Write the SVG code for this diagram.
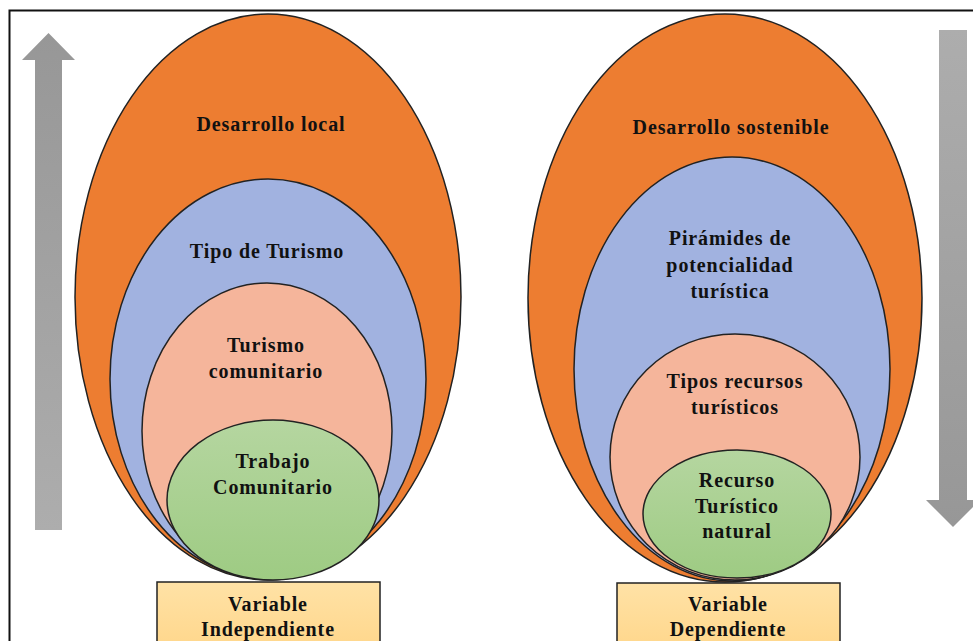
<svg xmlns="http://www.w3.org/2000/svg" width="973" height="641" viewBox="0 0 973 641">
<defs>
<linearGradient id="gUp" x1="0" y1="0" x2="0" y2="1"><stop offset="0" stop-color="#979797"/><stop offset="1" stop-color="#adadad"/></linearGradient>
<linearGradient id="gDown" x1="0" y1="0" x2="0" y2="1"><stop offset="0" stop-color="#adadad"/><stop offset="1" stop-color="#979797"/></linearGradient>
<linearGradient id="gGreen" x1="0" y1="0" x2="0" y2="1"><stop offset="0" stop-color="#b5d6a0"/><stop offset="1" stop-color="#9ecb83"/></linearGradient>
<linearGradient id="gBox" x1="0" y1="0" x2="0" y2="1"><stop offset="0" stop-color="#ffe2a6"/><stop offset="1" stop-color="#ffd68a"/></linearGradient>
<style>
.o{fill:#ED7D31;stroke:#222;stroke-width:1.5}
.b{fill:#A1B2E0;stroke:#222;stroke-width:1.5}
.s{fill:#F5B59B;stroke:#222;stroke-width:1.5}
.g{fill:url(#gGreen);stroke:#222;stroke-width:1.5}
.box{fill:url(#gBox);stroke:#222;stroke-width:1.5}
text{font-family:"Liberation Serif","Times New Roman",serif;font-weight:bold;font-size:20px;letter-spacing:0.9px;fill:#111;text-anchor:middle}
</style>
</defs>
<rect x="0" y="0" width="973" height="641" fill="#fff"/>
<path d="M9.5,641 V10.5 H973" fill="none" stroke="#111" stroke-width="2"/>
<g id="arrows">
<polygon points="35,530 35,60 22,60 48.5,33 75,60 62,60 62,530" fill="url(#gUp)"/>
<polygon points="939,30 967,30 967,500 980,500 953,527 926,500 939,500" fill="url(#gDown)"/>
</g>
<g id="left-orange"><ellipse class="o" cx="268" cy="297" rx="193" ry="283"/><text x="271" y="131">Desarrollo local</text></g>
<g id="left-blue"><ellipse class="b" cx="268" cy="379" rx="158" ry="200"/><text x="267" y="258">Tipo de Turismo</text></g>
<g id="left-salmon"><ellipse class="s" cx="267" cy="431" rx="125" ry="148"/><text x="266" y="352">Turismo</text><text x="266" y="378">comunitario</text></g>
<g id="left-green"><ellipse class="g" cx="273" cy="500" rx="106" ry="80"/><text x="273" y="468">Trabajo</text><text x="273" y="494">Comunitario</text></g>
<g id="left-box"><rect class="box" x="157" y="582" width="223" height="70"/><text x="268" y="611">Variable</text><text x="268" y="636">Independiente</text></g>
<g id="right-orange"><ellipse class="o" cx="725" cy="298" rx="197" ry="284"/><text x="731" y="134">Desarrollo sostenible</text></g>
<g id="right-blue"><ellipse class="b" cx="732" cy="369" rx="158" ry="212"/><text x="730" y="245">Pirámides de</text><text x="730" y="272">potencialidad</text><text x="730" y="298">turística</text></g>
<g id="right-salmon"><ellipse class="s" cx="735" cy="457" rx="125" ry="123"/><text x="735" y="388">Tipos recursos</text><text x="735" y="414">turísticos</text></g>
<g id="right-green"><ellipse class="g" cx="737" cy="514" rx="94" ry="64"/><text x="737" y="487">Recurso</text><text x="737" y="513">Turístico</text><text x="737" y="538">natural</text></g>
<g id="right-box"><rect class="box" x="617" y="583" width="223" height="70"/><text x="728" y="611">Variable</text><text x="728" y="636">Dependiente</text></g>
</svg>
